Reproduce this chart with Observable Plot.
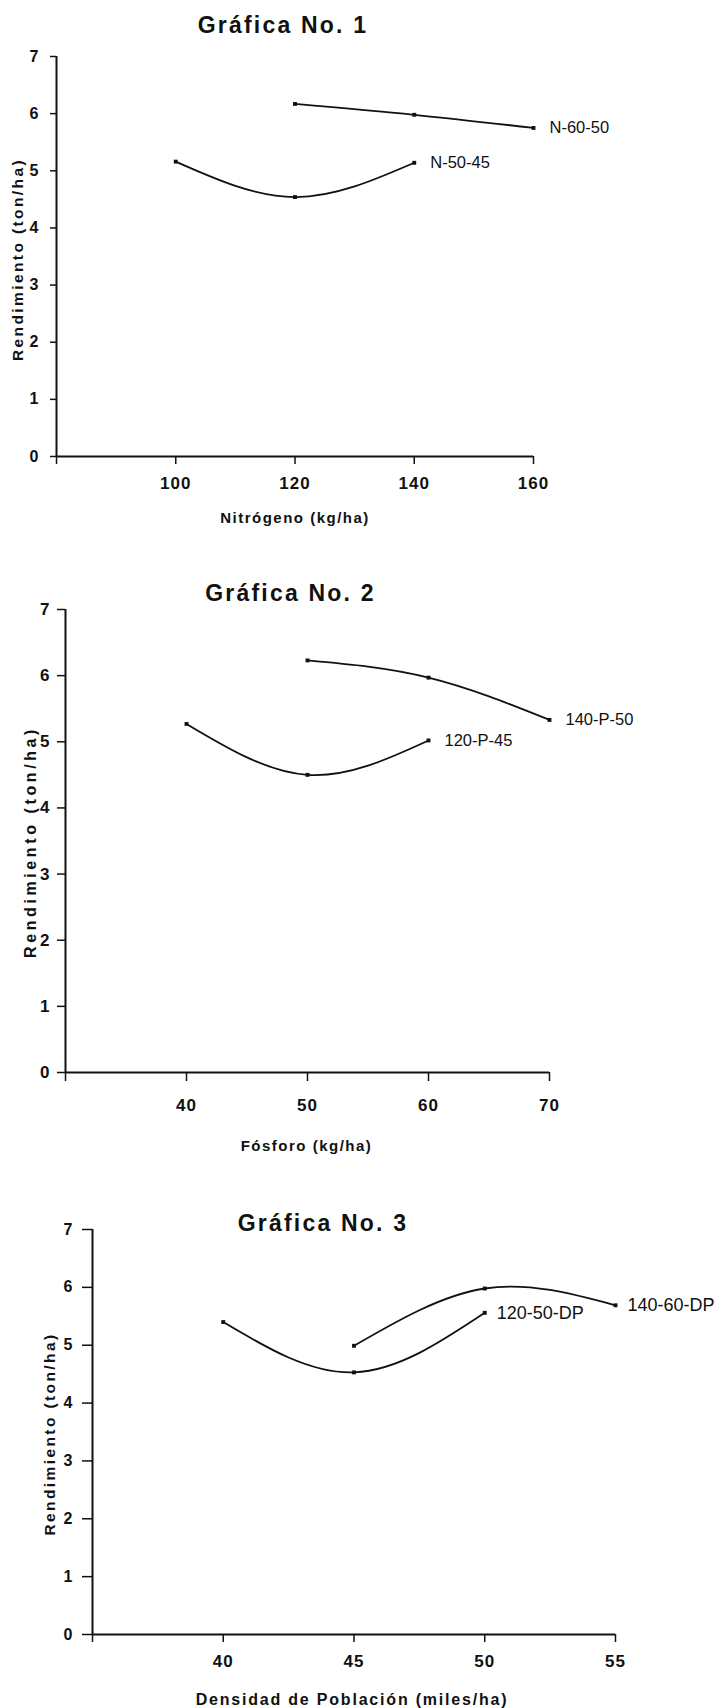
<!DOCTYPE html>
<html><head><meta charset="utf-8">
<script src="https://cdn.jsdelivr.net/npm/d3@7"></script>
<script src="https://cdn.jsdelivr.net/npm/@observablehq/plot@0.6"></script>
<style>
html,body{margin:0;padding:0;background:#fff;width:720px;height:1708px;overflow:hidden}
#c svg{display:block;overflow:visible}
</style></head><body><div id="c"></div>
<script>
// ---- data ----
const yTicks = [0, 1, 2, 3, 4, 5, 6, 7];
const yLabel = "Rendimiento (ton/ha)";

const title1 = "Gráfica No. 1";
const xLabel1 = "Nitrógeno (kg/ha)";
const xTicks1 = [80, 100, 120, 140, 160];
const nameN1 = "N-50-45";
const nitroN1 = [100, 120, 140];
const yieldN1 = [5.16, 4.54, 5.14];
const nameN2 = "N-60-50";
const nitroN2 = [120, 140, 160];
const yieldN2 = [6.17, 5.98, 5.75];

const title2 = "Gráfica No. 2";
const xLabel2 = "Fósforo (kg/ha)";
const xTicks2 = [30, 40, 50, 60, 70];
const nameP1 = "120-P-45";
const phosP1 = [40, 50, 60];
const yieldP1 = [5.27, 4.50, 5.02];
const nameP2 = "140-P-50";
const phosP2 = [50, 60, 70];
const yieldP2 = [6.23, 5.97, 5.33];

const title3 = "Gráfica No. 3";
const xLabel3 = "Densidad de Población (miles/ha)";
const xTicks3 = [35, 40, 45, 50, 55];
const nameD1 = "120-50-DP";
const densD1 = [40, 45, 50];
const yieldD1 = [5.40, 4.53, 5.56];
const nameD2 = "140-60-DP";
const densD2 = [45, 50, 55];
const yieldD2 = [4.99, 5.98, 5.69];

const FONT = "'Liberation Sans', Arial, Helvetica, sans-serif";
const INK = "#111";

function chart(c) {
  const rows = c.series.flatMap(s => s.x.map((x, i) => ({x, y: s.y[i], name: s.name})));
  const ends = c.series.map(s => ({x: s.x[s.x.length - 1], y: s.y[s.y.length - 1], name: s.name}));
  const xt = c.xTicks;
  const svg = Plot.plot({
    width: 720, height: c.height,
    marginTop: c.mt, marginBottom: c.mb, marginLeft: c.ml, marginRight: c.mr,
    style: {fontFamily: FONT, background: "white", color: INK, overflow: "visible"},
    x: {domain: [xt[0], xt[xt.length - 1]], axis: null},
    y: {domain: [yTicks[0], yTicks[yTicks.length - 1]], axis: null},
    marks: [
      Plot.ruleX([xt[0]], {stroke: INK, strokeWidth: 2}),
      Plot.ruleY([yTicks[0]], {stroke: INK, strokeWidth: 2}),
      Plot.axisY({ticks: yTicks, tickSize: c.yts, tickPadding: c.ytp, fontSize: c.ytf, fontWeight: "bold",
        strokeWidth: 1.5, label: null, tickFormat: d => String(d)}),
      Plot.axisX({ticks: xt, tickSize: c.xts, tickPadding: c.xtp, fontSize: c.xtf, fontWeight: "bold",
        strokeWidth: 1.5, label: null, tickFormat: d => d === xt[0] ? "" : String(d)}),
      Plot.line(rows, {x: "x", y: "y", z: "name", curve: "natural", stroke: INK, strokeWidth: 1.8}),
      Plot.dot(rows, {x: "x", y: "y", symbol: "square", r: 2.2, fill: INK, stroke: "none"}),
      Plot.text(ends, {x: "x", y: "y", text: "name", textAnchor: "start", dx: c.sdx, fontSize: c.sf, fill: INK}),
      Plot.text([c.title], {text: d => d, frameAnchor: "top", textAnchor: "middle", lineAnchor: "middle",
        dx: c.tdx, dy: c.tdy, fontSize: 23, fontWeight: "bold", fill: INK}),
      Plot.text([c.xLabel], {text: d => d, frameAnchor: "bottom", textAnchor: "middle", lineAnchor: "middle",
        dx: c.xldx, dy: c.xldy, fontSize: c.xlf, fontWeight: "bold", fill: INK}),
      Plot.text([yLabel], {text: d => d, frameAnchor: "left", textAnchor: "middle", lineAnchor: "middle",
        rotate: -90, dx: c.yldx, dy: c.yldy, fontSize: c.ylf, fontWeight: "bold", fill: INK})
    ]
  });
  const s = d3.select(svg);
  const xtLabels = new Set(xt.map(String));
  s.selectAll("text").each(function () {
    const t = this.textContent;
    const sel = d3.select(this);
    if (t === c.title) sel.style("letter-spacing", "2.2px");
    else if (t === c.xLabel) sel.style("letter-spacing", c.xls + "px");
    else if (t === yLabel) sel.style("letter-spacing", c.yls + "px");
    else if (xtLabels.has(t)) sel.style("letter-spacing", "1px");
  });
  return svg;
}

const root = document.getElementById("c");
root.appendChild(chart({
  height: 560, mt: 56, mb: 104, ml: 56, mr: 187,
  xTicks: xTicks1, title: title1, xLabel: xLabel1,
  series: [{name: nameN1, x: nitroN1, y: yieldN1}, {name: nameN2, x: nitroN2, y: yieldN2}],
  yts: 6, ytp: 12, ytf: 16, xts: 8, xtp: 12, xtf: 17,
  sdx: 16, sf: 16.5,
  tdx: -12, tdy: -31,
  xldx: 0, xldy: 62, xlf: 15, xls: 1.5,
  yldx: -38, yldy: 3, ylf: 15.5, yls: 2.4
}));
root.appendChild(chart({
  height: 600, mt: 49, mb: 88, ml: 65, mr: 171,
  xTicks: xTicks2, title: title2, xLabel: xLabel2,
  series: [{name: nameP1, x: phosP1, y: yieldP1}, {name: nameP2, x: phosP2, y: yieldP2}],
  yts: 8, ytp: 8, ytf: 17, xts: 9, xtp: 17, xtf: 17,
  sdx: 16, sf: 16.5,
  tdx: -17, tdy: -16,
  xldx: -1, xldy: 74, xlf: 15, xls: 1.5,
  yldx: -35, yldy: 1, ylf: 16, yls: 3.6
}));
root.appendChild(chart({
  height: 548, mt: 69, mb: 74, ml: 92, mr: 105,
  xTicks: xTicks3, title: title3, xLabel: xLabel3,
  series: [{name: nameD1, x: densD1, y: yieldD1}, {name: nameD2, x: densD2, y: yieldD2}],
  yts: 10, ytp: 10, ytf: 16, xts: 8, xtp: 12, xtf: 17,
  sdx: 12, sf: 18,
  tdx: -31, tdy: -6,
  xldx: -2, xldy: 65, xlf: 16, xls: 1.8,
  yldx: -42, yldy: 2, ylf: 15.5, yls: 2.4
}));
</script></body></html>
